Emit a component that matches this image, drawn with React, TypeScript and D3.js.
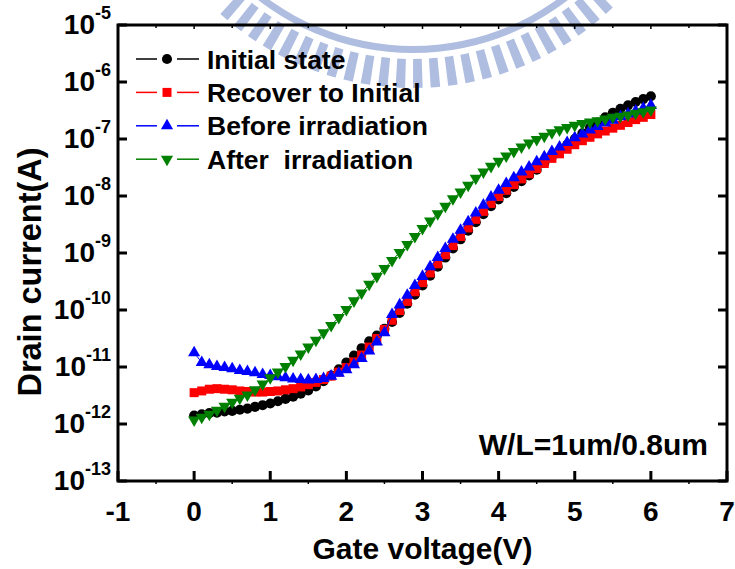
import React from "react";
import * as d3 from "d3";

const width = 735;
const height = 569;
const plot = { left: 118, right: 727, top: 25, bottom: 481 };
const font = "'Liberation Sans', Arial, Helvetica, sans-serif";

// gate voltage sweep (V)
const gateVoltage = [
  0, 0.1, 0.2, 0.3, 0.4, 0.5, 0.6, 0.7, 0.8, 0.9,
  1, 1.1, 1.2, 1.3, 1.4, 1.5, 1.6, 1.7, 1.8, 1.9,
  2, 2.1, 2.2, 2.3, 2.4, 2.5, 2.6, 2.7, 2.8, 2.9,
  3, 3.1, 3.2, 3.3, 3.4, 3.5, 3.6, 3.7, 3.8, 3.9,
  4, 4.1, 4.2, 4.3, 4.4, 4.5, 4.6, 4.7, 4.8, 4.9,
  5, 5.1, 5.2, 5.3, 5.4, 5.5, 5.6, 5.7, 5.8, 5.9, 6,
];

// log10 of drain current (A)
const initialStateLogI = [
  -11.85, -11.83, -11.81, -11.8, -11.78, -11.77, -11.75, -11.73, -11.7, -11.67,
  -11.64, -11.6, -11.56, -11.52, -11.47, -11.41, -11.34, -11.25, -11.15, -11.04,
  -10.92, -10.8, -10.67, -10.55, -10.45, -10.33, -10.21, -10.05, -9.89, -9.73,
  -9.57, -9.4, -9.24, -9.08, -8.92, -8.76, -8.61, -8.46, -8.32, -8.18,
  -8.06, -7.95, -7.84, -7.74, -7.64, -7.54, -7.42, -7.31, -7.2, -7.1,
  -7.0, -6.9, -6.8, -6.71, -6.62, -6.54, -6.47, -6.41, -6.35, -6.3, -6.25,
];
const recoverLogI = [
  -11.45, -11.42, -11.39, -11.38, -11.39, -11.4, -11.42, -11.43, -11.44, -11.44,
  -11.43, -11.42, -11.4, -11.38, -11.35, -11.31, -11.27, -11.22, -11.16, -11.09,
  -11.01, -10.91, -10.79, -10.65, -10.5, -10.34, -10.18, -10.01, -9.85, -9.68,
  -9.52, -9.35, -9.19, -9.03, -8.87, -8.71, -8.56, -8.41, -8.27, -8.13,
  -8.01, -7.9, -7.8, -7.7, -7.61, -7.52, -7.43, -7.34, -7.26, -7.18,
  -7.1, -7.03, -6.97, -6.91, -6.86, -6.81, -6.76, -6.71, -6.66, -6.62, -6.57,
];
const beforeLogI = [
  -10.75, -10.92, -10.96, -10.99, -11.01, -11.03, -11.06, -11.08, -11.1, -11.13,
  -11.15, -11.17, -11.19, -11.21, -11.22, -11.23, -11.22, -11.2, -11.16, -11.11,
  -11.05, -10.96, -10.85, -10.72, -10.56, -10.4, -10.08, -9.91, -9.74, -9.57,
  -9.41, -9.24, -9.08, -8.92, -8.76, -8.6, -8.45, -8.3, -8.16, -8.02,
  -7.9, -7.78, -7.68, -7.58, -7.49, -7.4, -7.31, -7.22, -7.14, -7.06,
  -6.98, -6.91, -6.84, -6.78, -6.72, -6.67, -6.61, -6.56, -6.51, -6.46, -6.41,
];
const afterLogI = [
  -11.93, -11.88, -11.83, -11.76, -11.69, -11.62, -11.55, -11.49, -11.4, -11.3,
  -11.19, -11.09, -10.99, -10.88, -10.77, -10.65, -10.53, -10.4, -10.27, -10.13,
  -9.99, -9.84, -9.7, -9.55, -9.41, -9.27, -9.13, -8.99, -8.85, -8.71,
  -8.57, -8.44, -8.31, -8.18, -8.05, -7.93, -7.81, -7.69, -7.58, -7.48,
  -7.39, -7.3, -7.22, -7.14, -7.07, -7.01, -6.95, -6.89, -6.84, -6.8,
  -6.76, -6.73, -6.7, -6.68, -6.65, -6.62, -6.6, -6.58, -6.55, -6.52, -6.49,
];

const seriesNames = ["Initial state", "Recover to Initial", "Before irradiation", "After  irradiation"];
const seriesColors = ["#000000", "#ff0000", "#0000ff", "#008000"];
const seriesLogI = [initialStateLogI, recoverLogI, beforeLogI, afterLogI];

const xTicks = [-1, 0, 1, 2, 3, 4, 5, 6, 7];
const yTickExponents = [-13, -12, -11, -10, -9, -8, -7, -6, -5];

const x = d3.scaleLinear().domain([-1, 7]).range([plot.left, plot.right]);
const y = d3.scaleLog().domain([1e-13, 1e-5]).range([plot.bottom, plot.top]);

const symbolPaths = [
  d3.symbol().type(d3.symbolCircle).size(80)(),
  d3.symbol().type(d3.symbolSquare).size(81)(),
  d3.symbol().type(d3.symbolTriangle).size(64)(),
  d3.symbol().type(d3.symbolTriangle).size(64)(),
];
const symbolRotate = [0, 0, 0, 180];

const Marker = ({ i, cx, cy }) => (
  <path
    d={symbolPaths[i]}
    fill={seriesColors[i]}
    transform={`translate(${cx},${cy}) rotate(${symbolRotate[i]})`}
  />
);

// faint logo watermark behind the chart
const Watermark = () => {
  const cx = 413;
  const cy = -200;
  const band = d3.arc()({ innerRadius: 246, outerRadius: 253, startAngle: Math.PI - 0.8, endAngle: Math.PI + 0.8 });
  const step = (3.5 * Math.PI) / 180;
  const half = (0.95 * Math.PI) / 180;
  const bars = d3.range(Math.PI - 0.75, Math.PI + 0.75, step).map(a =>
    d3.arc()({ innerRadius: 259, outerRadius: 288, startAngle: a - half, endAngle: a + half })
  );
  return (
    <g transform={`translate(${cx},${cy})`} fill="#aebde0">
      <path d={band} />
      {bars.map((d, i) => <path key={i} d={d} />)}
    </g>
  );
};

export default function App() {
  const line = d3
    .line()
    .x(d => x(d[0]))
    .y(d => y(Math.pow(10, d[1])));

  const minorX = d3.range(-0.5, 7, 1);

  return (
    <svg
      width={width}
      height={height}
      style={{ position: "absolute", left: 0, top: 0, background: "#fff" }}
      fontFamily={font}
      fontWeight="bold"
    >
      <rect width={width} height={height} fill="#fff" />
      <Watermark />

      {/* data */}
      {seriesLogI.map((vals, i) => (
        <g key={seriesNames[i]}>
          <path
            d={line(vals.map((v, j) => [gateVoltage[j], v]))}
            fill="none"
            stroke={seriesColors[i]}
            strokeWidth={1}
          />
          {vals.map((v, j) => (
            <Marker key={j} i={i} cx={x(gateVoltage[j])} cy={y(Math.pow(10, v))} />
          ))}
        </g>
      ))}

      {/* frame */}
      <rect
        x={plot.left}
        y={plot.top}
        width={plot.right - plot.left}
        height={plot.bottom - plot.top}
        fill="none"
        stroke="#000"
        strokeWidth={3}
      />

      {/* x ticks */}
      {xTicks.map(t => (
        <g key={t}>
          <line x1={x(t)} x2={x(t)} y1={plot.bottom} y2={plot.bottom - 10} stroke="#000" strokeWidth={3} />
          <line x1={x(t)} x2={x(t)} y1={plot.top} y2={plot.top + 4} stroke="#000" strokeWidth={1.5} />
          <text x={x(t)} y={plot.bottom + 40} textAnchor="middle" fontSize={28}>
            {t}
          </text>
        </g>
      ))}
      {minorX.map(t => (
        <g key={t}>
          <line x1={x(t)} x2={x(t)} y1={plot.bottom} y2={plot.bottom + 3} stroke="#000" strokeWidth={1.5} />
          <line x1={x(t)} x2={x(t)} y1={plot.top} y2={plot.top + 3} stroke="#000" strokeWidth={1.5} />
        </g>
      ))}

      {/* y ticks */}
      {yTickExponents.map(e => {
        const yy = y(Math.pow(10, e));
        return (
          <g key={e}>
            <line x1={plot.left} x2={plot.left + 9} y1={yy} y2={yy} stroke="#000" strokeWidth={3} />
            <line x1={plot.right} x2={plot.right - 9} y1={yy} y2={yy} stroke="#000" strokeWidth={3} />
            <text x={111} y={yy + 9} textAnchor="end" fontSize={28}>
              10
              <tspan dy={-15} fontSize={18}>
                {e}
              </tspan>
            </text>
          </g>
        );
      })}

      {/* axis titles */}
      <text x={(plot.left + plot.right) / 2} y={559} textAnchor="middle" fontSize={30}>
        Gate voltage(V)
      </text>
      <text
        transform={`translate(41,272) rotate(-90)`}
        textAnchor="middle"
        fontSize={32.5}
      >
        Drain current(A)
      </text>

      {/* legend */}
      {seriesNames.map((name, i) => {
        const cy = 59 + i * 33.4;
        return (
          <g key={name}>
            <line x1={136} x2={157} y1={cy} y2={cy} stroke={seriesColors[i]} strokeWidth={1.5} />
            <line x1={177} x2={199} y1={cy} y2={cy} stroke={seriesColors[i]} strokeWidth={1.5} />
            <Marker i={i} cx={167} cy={cy} />
            <text x={207} y={cy + 9.5} fontSize={26.5} style={{ whiteSpace: "pre" }}>
              {name}
            </text>
          </g>
        );
      })}

      <text x={708} y={455} textAnchor="end" fontSize={30}>
        W/L=1um/0.8um
      </text>
    </svg>
  );
}
